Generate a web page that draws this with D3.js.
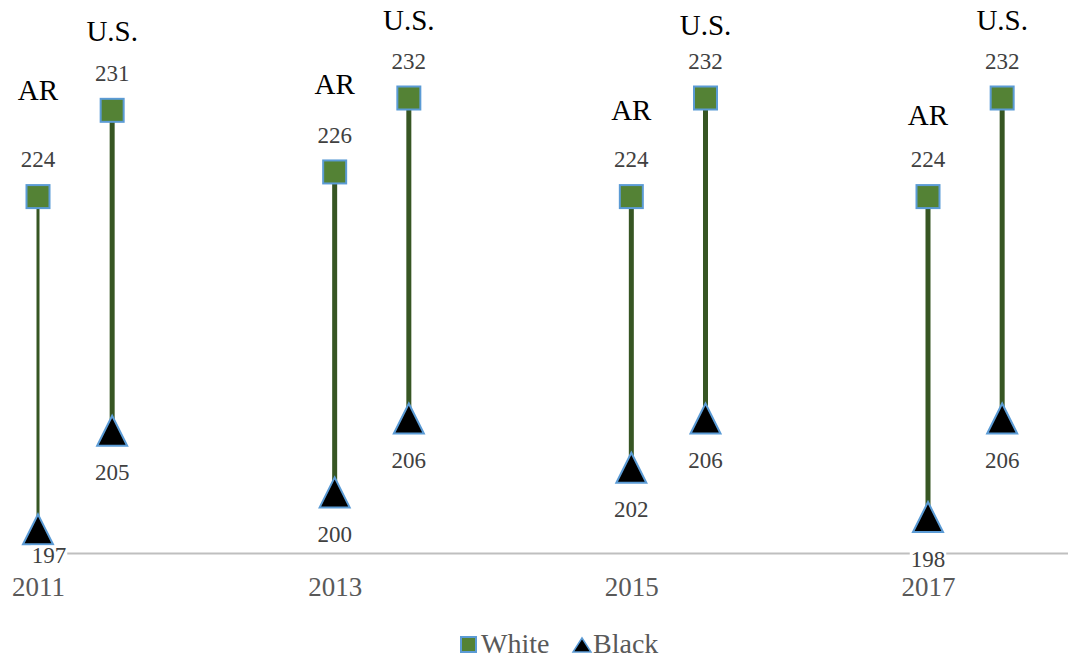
<!DOCTYPE html>
<html><head><meta charset="utf-8">
<script src="https://cdn.jsdelivr.net/npm/d3@7"></script>
<style>body{margin:0;background:#fff}svg{display:block}</style>
</head><body>
<svg id="chart" width="1068" height="660" style="font-family:'Liberation Serif',serif"></svg>
<script>
// ---- data ----
const years = [2011, 2013, 2015, 2017];
const arWhite = [224, 226, 224, 224];
const arBlack = [197, 200, 202, 198];
const usWhite = [231, 232, 232, 232];
const usBlack = [205, 206, 206, 206];
const seriesNames = ["White", "Black"];
const groupNames = ["AR", "U.S."];

// ---- layout (kept apart from the data) ----
const arLabelLevel = [232.6, 233.1, 231.0, 230.6];   // group-name annotation heights, in score units
const usLabelLevel = [237.4, 238.3, 237.9, 238.3];
const FONT = "Liberation Serif";
const C = {fill:"#548235", edge:"#5B9BD5", stem:"#375623", lab:"#404040", cat:"#595959", axis:"#BFBFBF"};

const svg = d3.select("#chart");
const x = d3.scaleLinear().domain([2011, 2017]).range([38, 928]);
const y = d3.scaleLinear().domain([195, 232]).range([554, 98]);
const usOffset = x(2011.5) - x(2011);

const rows = [];
years.forEach((yr, i) => {
  rows.push({g:0, year:yr, cx:x(yr), w:arWhite[i], b:arBlack[i], lab:arLabelLevel[i], sw: i===0 ? 3 : 5});
  rows.push({g:1, year:yr, cx:x(yr)+usOffset, w:usWhite[i], b:usBlack[i], lab:usLabelLevel[i], sw:5});
});

// axis
const axisScale = x.copy().domain([x.invert(32), x.invert(1068)]).range([32, 1068]);
const ax = svg.append("g").attr("transform", "translate(0,553)")
  .call(d3.axisBottom(axisScale).tickValues(years).tickSize(0).tickFormat(d3.format("d")));
ax.attr("font-family", null).attr("font-size", null);
ax.select(".domain").attr("stroke", C.axis).attr("stroke-width", 2);
ax.selectAll(".tick text").attr("dy", null).attr("y", 43)
  .style("font-family", FONT).style("font-size", "27px").attr("fill", C.cat);

// stems
svg.selectAll("line.stem").data(rows).join("line").attr("class","stem")
  .attr("x1", d => d.cx).attr("x2", d => d.cx)
  .attr("y1", d => y(d.w)).attr("y2", d => y(d.b))
  .attr("stroke", C.stem).attr("stroke-width", d => d.sw);

// white squares
const sq = 23;
svg.selectAll("rect.w").data(rows).join("rect").attr("class","w")
  .attr("x", d => d.cx - sq/2).attr("y", d => y(d.w) - sq/2)
  .attr("width", sq).attr("height", sq)
  .attr("fill", C.fill).attr("stroke", C.edge).attr("stroke-width", 2);

// black triangles
const tri = 30;
svg.selectAll("path.b").data(rows).join("path").attr("class","b")
  .attr("d", d => {
    const cx = d.cx, cy = y(d.b);
    return `M${cx},${cy - tri/2}L${cx + tri/2},${cy + tri/2}L${cx - tri/2},${cy + tri/2}Z`;
  })
  .attr("fill", "#000").attr("stroke", C.edge).attr("stroke-width", 2);

// data labels
const fs = 23;
function addLabel(cx, cyCenter, txt) {
  const g = svg.append("g");
  const t = g.append("text").attr("x", cx).attr("y", cyCenter + 0.33*fs)
    .attr("text-anchor", "middle").style("font-family", FONT).style("font-size", fs + "px")
    .attr("fill", C.lab).text(txt);
  const bb = t.node().getBBox();
  g.insert("rect", "text").attr("x", bb.x - 1).attr("y", bb.y + 3).attr("width", bb.width + 2)
    .attr("height", bb.height - 6).attr("fill", "#fff");
}
rows.forEach(d => {
  addLabel(d.cx, y(d.w) - 37, d.w);
  let cy = y(d.b) + 42, cx = d.cx;
  if (cy > 565) { cy = 555; cx = d.cx + 11; }
  addLabel(cx, cy, d.b);
});

// group annotations
svg.selectAll("text.grp").data(rows).join("text").attr("class","grp")
  .attr("x", d => d.cx).attr("y", d => y(d.lab) + 0.33*29)
  .attr("text-anchor","middle").style("font-family", FONT).style("font-size", "29px")
  .attr("fill", "#000").text(d => groupNames[d.g]);

// legend
const lg = svg.append("g");
lg.append("rect").attr("x", 461).attr("y", 637).attr("width", 15).attr("height", 15)
  .attr("fill", C.fill).attr("stroke", C.edge).attr("stroke-width", 2);
lg.append("text").attr("x", 481).attr("y", 653).style("font-family", FONT).style("font-size", "28px")
  .attr("fill", C.cat).text(seriesNames[0]);
lg.append("path").attr("d", "M582,638L591,652L573,652Z").attr("fill","#000")
  .attr("stroke", C.edge).attr("stroke-width", 1.5);
lg.append("text").attr("x", 593).attr("y", 653).style("font-family", FONT).style("font-size", "28px")
  .attr("fill", C.cat).text(seriesNames[1]);
</script>
</body></html>
